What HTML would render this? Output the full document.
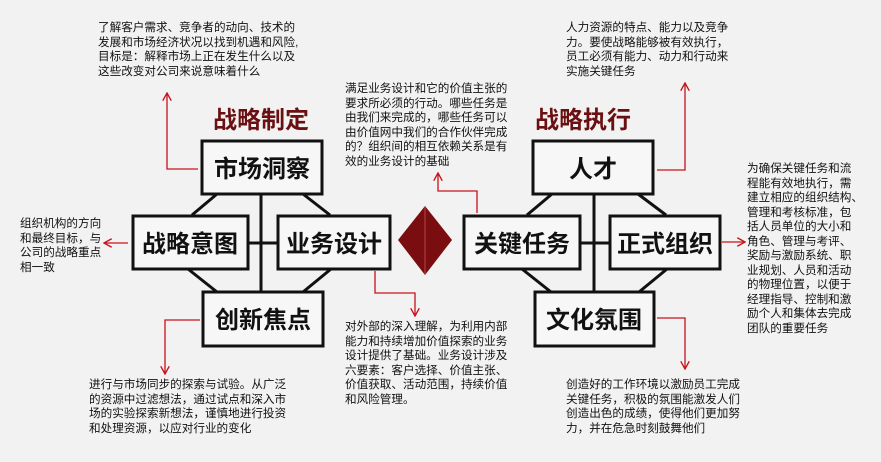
<!DOCTYPE html>
<html><head><meta charset="utf-8">
<style>
body{margin:0;width:881px;height:462px;overflow:hidden;background:#f2f2f2;}
.t{position:absolute;font-family:"Liberation Sans","Noto Sans CJK SC",sans-serif;font-size:11.6px;line-height:14.5px;color:#111;white-space:pre;}
</style></head><body>
<svg width="881" height="462" style="position:absolute;left:0;top:0" xmlns="http://www.w3.org/2000/svg">
<defs>
<marker id="a" viewBox="0 0 10 10" refX="9" refY="5" markerWidth="7" markerHeight="7" orient="auto-start-reverse"><path d="M0,0 L9,5 L0,10" fill="none" stroke="#c8121a" stroke-width="1.5"/></marker>
</defs>
<g stroke="#111" stroke-width="3" fill="#f7f7f7">
<line x1="261" y1="194" x2="261" y2="292"/>
<line x1="248" y1="243" x2="278" y2="243"/>
<line x1="217" y1="194" x2="192" y2="215"/>
<line x1="303" y1="194" x2="330" y2="215"/>
<line x1="188" y1="269" x2="217" y2="292"/>
<line x1="331" y1="269" x2="303" y2="292"/>
<rect x="202" y="141" width="120" height="53"/>
<rect x="133" y="216" width="115" height="53"/>
<rect x="278" y="216" width="112" height="53"/>
<rect x="203" y="292" width="120" height="54"/>
<line x1="594" y1="194" x2="594" y2="292"/>
<line x1="580" y1="243" x2="610" y2="243"/>
<line x1="552" y1="194" x2="527" y2="215"/>
<line x1="638" y1="194" x2="666" y2="215"/>
<line x1="522" y1="269" x2="551" y2="292"/>
<line x1="667" y1="269" x2="639" y2="292"/>
<rect x="533" y="141" width="120" height="53"/>
<rect x="464" y="216" width="116" height="53"/>
<rect x="610" y="216" width="110" height="53"/>
<rect x="535" y="292" width="119" height="54"/>
</g>
<polygon points="425,206 452,240 425,275 398,240" fill="#7a0d0f"/>
<line x1="425" y1="207" x2="425" y2="274" stroke="#b3484a" stroke-width="1"/>
<g stroke="#c8121a" stroke-width="1.3" fill="none">
<polyline points="198,169 167,169 167,93" marker-end="url(#a)"/>
<polyline points="128,243 104,243" marker-end="url(#a)"/>
<polyline points="477,213 477,191 438,191 438,173" marker-end="url(#a)"/>
<polyline points="375,271 375,293 415,293 415,316" marker-end="url(#a)"/>
<polyline points="200,320 165,320 165,374" marker-end="url(#a)"/>
<polyline points="657,170 685,170 685,83" marker-end="url(#a)"/>
<polyline points="722,242 745,242" marker-end="url(#a)"/>
<polyline points="657,318 685,318 685,369" marker-end="url(#a)"/>
</g>
<g font-family="Liberation Sans,Noto Sans CJK SC,sans-serif" text-anchor="middle">
<text x="261" y="128" font-size="24" font-weight="bold" fill="#6b1012">战略制定</text>
<text x="583" y="128" font-size="24" font-weight="bold" fill="#6b1012">战略执行</text>
<g font-size="24" font-weight="bold" fill="#111">
<text x="262" y="177">市场洞察</text>
<text x="190" y="252">战略意图</text>
<text x="334" y="252">业务设计</text>
<text x="263" y="328">创新焦点</text>
<text x="593" y="177">人才</text>
<text x="522" y="252">关键任务</text>
<text x="665" y="252">正式组织</text>
<text x="594" y="328">文化氛围</text>
</g></g>
</svg>
<div class="t" style="left:98px;top:21px">了解客户需求、竞争者的动向、技术的
发展和市场经济状况以找到机遇和风险,
目标是：解释市场上正在发生什么以及
这些改变对公司来说意味着什么</div>
<div class="t" style="left:345px;top:82px">满足业务设计和它的价值主张的
要求所必须的行动。哪些任务是
由我们来完成的，哪些任务可以
由价值网中我们的合作伙伴完成
的？组织间的相互依赖关系是有
效的业务设计的基础</div>
<div class="t" style="left:566px;top:21px">人力资源的特点、能力以及竞争
力。要使战略能够被有效执行，
员工必须有能力、动力和行动来
实施关键任务</div>
<div class="t" style="left:747px;top:162px">为确保关键任务和流
程能有效地执行，需
建立相应的组织结构、
管理和考核标准，包
括人员单位的大小和
角色、管理与考评、
奖励与激励系统、职
业规划、人员和活动
的物理位置，以便于
经理指导、控制和激
励个人和集体去完成
团队的重要任务</div>
<div class="t" style="left:20px;top:217px">组织机构的方向
和最终目标，与
公司的战略重点
相一致</div>
<div class="t" style="left:89px;top:378px">进行与市场同步的探索与试验。从广泛
的资源中过滤想法，通过试点和深入市
场的实验探索新想法，谨慎地进行投资
和处理资源，以应对行业的变化</div>
<div class="t" style="left:345px;top:320px">对外部的深入理解，为利用内部
能力和持续增加价值探索的业务
设计提供了基础。业务设计涉及
六要素：客户选择、价值主张、
价值获取、活动范围，持续价值
和风险管理。</div>
<div class="t" style="left:566px;top:378px">创造好的工作环境以激励员工完成
关键任务，积极的氛围能激发人们
创造出色的成绩，使得他们更加努
力，并在危急时刻鼓舞他们</div>
</body></html>
